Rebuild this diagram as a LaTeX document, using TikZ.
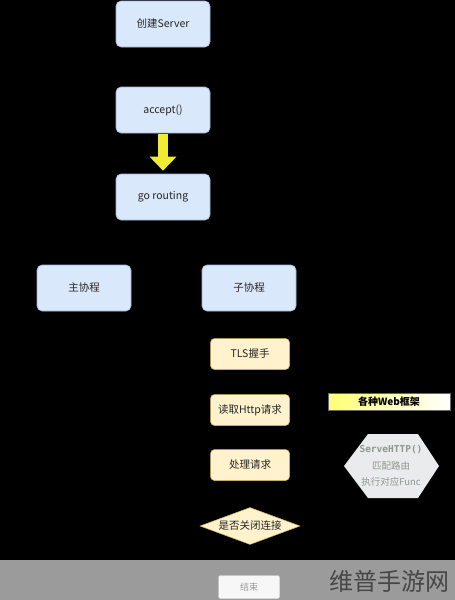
\documentclass[tikz,border=0pt]{standalone}
\usepackage{fontspec}
\setmainfont{Noto Sans CJK SC}
\newfontfamily\monofnt{DejaVu Sans Mono}
\usetikzlibrary{arrows.meta,shapes.geometric}
\definecolor{bluefill}{HTML}{DAE8FC}
\definecolor{blueline}{HTML}{9FB3D6}
\definecolor{yelfill}{HTML}{FFF2CC}
\definecolor{yelline}{HTML}{D6B656}
\definecolor{arrowyel}{HTML}{F0EC36}
\definecolor{stripgray}{HTML}{9B9B9B}
\definecolor{hexfill}{HTML}{EAEBEC}
\definecolor{hextext}{HTML}{8E978E}
\tikzset{
  bluebox/.style={draw=blueline, line width=0.6pt, fill=bluefill, rounded corners=5pt,
    minimum width=94pt, minimum height=46pt, inner sep=0pt,
    font=\fontsize{10.5}{12}\selectfont, text=black!85},
  yelbox/.style={draw=yelline, line width=0.5pt, fill=yelfill, rounded corners=4pt,
    minimum width=79pt, minimum height=31pt, inner sep=0pt,
    font=\fontsize{10.5}{12}\selectfont, text=black!85},
  decision/.style={diamond, aspect=2.8, draw=yelline, line width=0.5pt, fill=yelfill,
    inner sep=0pt, minimum width=100pt, minimum height=37pt,
    font=\fontsize{10.5}{12}\selectfont, text=black!85},
  bigarrow/.style={line width=10pt, draw=arrowyel, -{Triangle[width=26pt,length=14pt]}},
}
\begin{document}
\begin{tikzpicture}[x=1pt,y=-1pt]
  \useasboundingbox (0,0) rectangle (455,600);
  \fill[black] (0,0) rectangle (455,560);
  \fill[stripgray] (0,560) rectangle (455,600);

  \node[bluebox] (create) at (163,24) {创建Server};
  \node[bluebox] (accept) at (163,110) {accept()};
  \node[bluebox] (go) at (163,197) {go routing};
  \node[bluebox] (main) at (84,288) {主协程};
  \node[bluebox] (child) at (249,288) {子协程};

  \draw[bigarrow] ([yshift=-1pt]accept.south) -- ([yshift=3pt]go.north);

  \node[yelbox] (tls) at (250,354) {TLS握手};
  \node[yelbox] (read) at (250,410) {读取Http请求};
  \node[yelbox] (proc) at (250,465) {处理请求};
  \node[decision] (close) at (250,526) {是否关闭连接};

  \node[left color=yellow!55, right color=white, draw=black!60, line width=0.3pt,
    minimum width=122pt, minimum height=17pt, inner sep=0pt,
    font=\bfseries\fontsize{10}{12}\selectfont] (web) at (389,402) {各种Web框架};

  \fill[hexfill] (344,466) -- (368,434) -- (418,434) -- (439,466) -- (418,498) -- (368,498) -- cycle;
  \node[align=center, text=hextext, inner sep=0pt, font=\fontsize{9.5}{16.5}\selectfont] (hex) at (391,466)
    {{\monofnt\bfseries ServeHTTP()}\\匹配路由\\执行对应Func};

  \node[draw=white!85!black, line width=0.4pt, fill=white!97!black, rounded corners=2pt,
    minimum width=61pt, minimum height=23pt, inner sep=0pt, text=black!40,
    font=\fontsize{9}{11}\selectfont] (end) at (249,587) {结束};

  \node[anchor=west, text=black!72, inner sep=0pt, font=\fontsize{24}{26}\selectfont] (wm) at (329,581) {维普手游网};
\end{tikzpicture}
\end{document}
